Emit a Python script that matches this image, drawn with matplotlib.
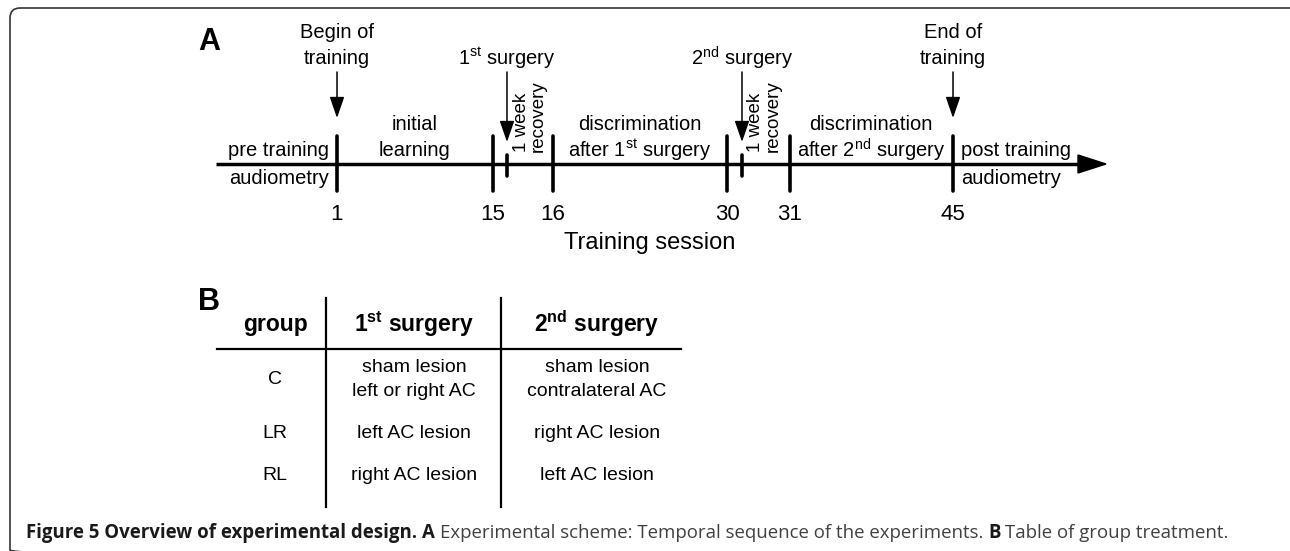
"""
Figure 5 - Overview of experimental design

A: timeline of the training sessions, B: table of group treatment
"""

import matplotlib
matplotlib.use('Agg')
import matplotlib.pyplot as plt
from matplotlib.patches import FancyBboxPatch, Polygon

plt.rcParams['font.family'] = ['Liberation Sans', 'DejaVu Sans']
plt.rcParams['mathtext.fontset'] = 'custom'
plt.rcParams['mathtext.rm'] = 'Liberation Sans'
plt.rcParams['mathtext.bf'] = 'Liberation Sans:bold'

# ---- data: timeline (A) ----
sessions = ['1', '15', '16', '30', '31', '45']
session_x = [337, 493, 553, 727, 790, 953]
surgery_x = [507, 742]
event_labels = ['Begin of\ntraining', '1$^{\\mathrm{st}}$ surgery',
                '2$^{\\mathrm{nd}}$ surgery', 'End of\ntraining']
event_x = [337, 507, 742, 953]
phase_labels = [('initial', 'learning'),
                ('discrimination', 'after 1$^{\\mathrm{st}}$ surgery'),
                ('discrimination', 'after 2$^{\\mathrm{nd}}$ surgery')]
phase_x = [415, 640, 871]

# ---- data: table (B) ----
table_header = ['group', '1$^{\\mathbf{st}}$ surgery', '2$^{\\mathbf{nd}}$ surgery']
groups = ['C', 'LR', 'RL']
first_surgery = [('sham lesion', 'left or right AC'), ('left AC lesion',), ('right AC lesion',)]
second_surgery = [('sham lesion', 'contralateral AC'), ('right AC lesion',), ('left AC lesion',)]

caption = [('Figure 5 Overview of experimental design.', 'bold'),
           ('A', 'bold'),
           ('Experimental scheme: Temporal sequence of the experiments.', 'normal'),
           ('B', 'bold'),
           ('Table of group treatment.', 'normal')]

fig = plt.figure(figsize=(12.9, 5.51), dpi=100)
ax = fig.add_axes([0, 0, 1, 1])
ax.set_xlim(0, 1290)
ax.set_ylim(551, 0)
ax.axis('off')

# frame round the whole figure (right and bottom edges run off the picture)
frame = FancyBboxPatch((10, 8), 1290, 552, boxstyle='round,pad=0,rounding_size=10',
                       fill=False, edgecolor='#333333', linewidth=1.2, clip_on=False)
ax.add_patch(frame)

# ---------------- A ----------------
line_y = 164
ax.text(209, 42, 'A', fontsize=22, fontweight='bold', ha='center', va='center')
ax.plot([216, 1082], [line_y, line_y], color='black', lw=2.5, solid_capstyle='butt')
head = Polygon([[1078, line_y - 9], [1106, line_y], [1078, line_y + 9]], closed=True,
               color='black')
ax.add_patch(head)

for x, s in zip(session_x, sessions):
    ax.plot([x, x], [136, 191], color='black', lw=2.6, solid_capstyle='round')
    ax.text(x, 214, s, fontsize=16, ha='center', va='center')
for x in surgery_x:
    ax.plot([x, x], [155, 176], color='black', lw=2.6, solid_capstyle='round')
    ax.text(x + 14, 152, '1 week', fontsize=13.5, rotation=90, ha='center', va='bottom')
    ax.text(x + 31, 152, 'recovery', fontsize=13.5, rotation=90, ha='center', va='bottom')

for x, lab in zip(event_x, event_labels):
    if '\n' in lab:
        top, bottom = lab.split('\n')
        ax.text(x, 33, top, fontsize=14.5, ha='center', va='center')
        ax.text(x, 58, bottom, fontsize=14.5, ha='center', va='center')
        tip = 118
    else:
        ax.text(x, 58, lab, fontsize=14.5, ha='center', va='center')
        tip = 142
    ax.annotate('', xy=(x, tip), xytext=(x, 72),
                arrowprops=dict(arrowstyle='-|>,head_length=1.3,head_width=0.45',
                                lw=1.1, color='black', shrinkA=0, shrinkB=0))

for x, (l1, l2) in zip(phase_x, phase_labels):
    ax.text(x, 124, l1, fontsize=14.5, ha='center', va='center')
    ax.text(x, 150, l2, fontsize=14.5, ha='center', va='center')

ax.text(329, 150, 'pre training', fontsize=14.5, ha='right', va='center')
ax.text(329, 178, 'audiometry', fontsize=14.5, ha='right', va='center')
ax.text(961, 150, 'post training', fontsize=14.5, ha='left', va='center')
ax.text(961, 178, 'audiometry', fontsize=14.5, ha='left', va='center')
ax.text(650, 243, 'Training session', fontsize=17, ha='center', va='center')

# ---------------- B ----------------
col_x = [275, 414, 597]
row_y = [379, 434, 476]
ax.text(209, 302, 'B', fontsize=22, fontweight='bold', ha='center', va='center')
for x, h in zip(col_x, table_header):
    ax.text(x, 324, h, fontsize=16.5, fontweight='bold', ha='center', va='center')
ax.plot([217, 681], [349, 349], color='black', lw=1.6)
for x in [326, 501]:
    ax.plot([x, x], [298, 507], color='black', lw=1.6)

for y, g, c1, c2 in zip(row_y, groups, first_surgery, second_surgery):
    ax.text(col_x[0], y, g, fontsize=14, ha='center', va='center')
    for x, cell in zip(col_x[1:], (c1, c2)):
        if len(cell) == 2:
            ax.text(x, y - 12, cell[0], fontsize=14, ha='center', va='center')
            ax.text(x, y + 12, cell[1], fontsize=14, ha='center', va='center')
        else:
            ax.text(x, y, cell[0], fontsize=14, ha='center', va='center')

# ---------------- caption ----------------
renderer = fig.canvas.get_renderer()
cap_font = ['Open Sans', 'DejaVu Sans']
cap_size = 13.4


def text_width(s, weight):
    t = ax.text(0, 0, s, fontsize=cap_size, fontweight=weight, family=cap_font)
    w = t.get_window_extent(renderer=renderer).width
    t.remove()
    return w


space_w = text_width('x x', 'normal') - text_width('xx', 'normal')
cx = 26
for s, weight in caption:
    color = '#1a1a1a' if weight == 'bold' else '#404040'
    t = ax.text(cx, 533, s, fontsize=cap_size, fontweight=weight, family=cap_font,
                color=color, ha='left', va='center')
    cx += t.get_window_extent(renderer=renderer).width + space_w

fig.savefig('out.png', dpi=100)
